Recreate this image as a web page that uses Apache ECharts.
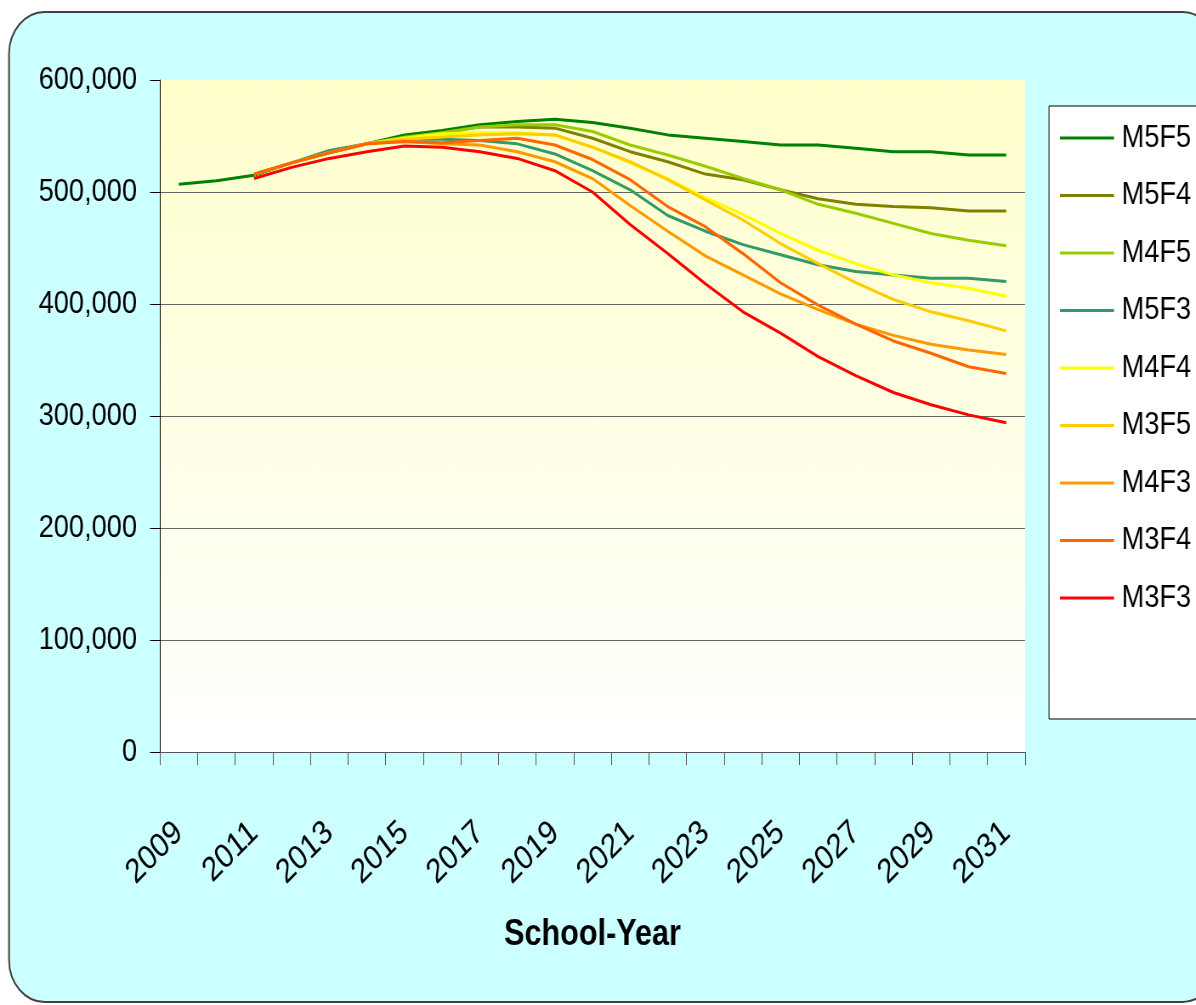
<!DOCTYPE html>
<html>
<head>
<meta charset="utf-8">
<title>School-Year projections</title>
<script src="https://cdn.jsdelivr.net/npm/echarts@6/dist/echarts.min.js"></script>
<style>
  html, body { margin: 0; padding: 0; background: #fff; overflow: hidden; }
  #wrap { width: 1196px; height: 1005px; overflow: hidden; }
  /* the reference is squeezed sideways, so draw wider and scale back */
  #chart { width: 1407px; height: 1005px; transform: scaleX(0.85); transform-origin: 0 0; }
</style>
</head>
<body>
<div id="wrap"><div id="chart"></div></div>
<script>
// school years on the x axis
const years = ["2009", "2010", "2011", "2012", "2013", "2014", "2015", "2016", "2017", "2018", "2019", "2020",
  "2021", "2022", "2023", "2024", "2025", "2026", "2027", "2028", "2029", "2030", "2031"]

// values (projections start in 2011)
const m5f5 = [507000, 510000, 515000, 526000, 536000, 543000, 551000, 555000, 560000, 563000, 565000, 562000,
  557000, 551000, 548000, 545000, 542000, 542000, 539000, 536000, 536000, 533000, 533000]
const m5f4 = [null, null, 516000, 526000, 535000, 543000, 549000, 553000, 558000, 558000, 557000, 548000,
  536000, 527000, 516000, 511000, 502000, 494000, 489000, 487000, 486000, 483000, 483000]
const m4f5 = [null, null, 516000, 526000, 535000, 543000, 549000, 553000, 558000, 560000, 560000, 554000,
  542000, 533000, 523000, 512000, 502000, 489000, 481000, 472000, 463000, 457000, 452000]
const m5f3 = [null, null, 516000, 526000, 537000, 543000, 547000, 547000, 546000, 543000, 534000, 519000,
  502000, 479000, 465000, 453000, 444000, 435000, 429000, 426000, 423000, 423000, 420000]
const m4f4 = [null, null, 516000, 526000, 535000, 543000, 548000, 552000, 553000, 553000, 551000, 540000,
  526000, 512000, 495000, 480000, 463000, 448000, 436000, 426000, 419000, 414000, 407000]
const m3f5 = [null, null, 516000, 526000, 535000, 543000, 547000, 549000, 551000, 552000, 551000, 540000,
  527000, 511000, 493000, 475000, 454000, 436000, 419000, 404000, 393000, 385000, 376000]
const m4f3 = [null, null, 516000, 526000, 535000, 543000, 545000, 543000, 542000, 536000, 527000, 512000,
  488000, 465000, 443000, 426000, 409000, 395000, 382000, 372000, 364000, 359000, 355000]
const m3f4 = [null, null, 516000, 526000, 535000, 543000, 545000, 544000, 546000, 548000, 542000, 529000,
  511000, 487000, 469000, 445000, 419000, 399000, 382000, 367000, 356000, 344000, 338000]
const m3f3 = [null, null, 512000, 522000, 530000, 536000, 541000, 540000, 536000, 530000, 519000, 500000,
  471000, 445000, 418000, 393000, 374000, 353000, 336000, 321000, 310000, 301000, 294000]

const seriesNames = ["M5F5", "M5F4", "M4F5", "M5F3", "M4F4", "M3F5", "M4F3", "M3F4", "M3F3"]
const seriesData = [m5f5, m5f4, m4f5, m5f3, m4f4, m3f5, m4f3, m3f4, m3f3]
const seriesColors = ["#008000", "#808000", "#99cc00", "#339966", "#ffff00", "#ffcc00", "#ff9900", "#ff6600", "#ff0000"]

const font = "'Liberation Sans', Arial, sans-serif"
// horizontal squeeze applied by css, x positions below are given in screen pixels
const SX = 0.85
const px = (v) => v / SX

const chart = echarts.init(document.getElementById("chart"))

const option = {
  backgroundColor: "#fff",
  animation: false,
  graphic: [
    {
      type: "rect",
      z: -10,
      shape: { x: px(9), y: 12, width: px(1209), height: 990, r: 42 },
      style: { fill: "#ccffff", stroke: "#404040", lineWidth: 2 },
    },
  ],
  legend: {
    orient: "vertical",
    left: px(1049),
    top: 106,
    padding: [16, px(10), 105, px(11)],
    itemGap: 25.5,
    itemWidth: px(54),
    itemHeight: 3,
    icon: "rect",
    backgroundColor: "#fff",
    borderColor: "#000",
    borderWidth: 1,
    borderRadius: 0,
    textStyle: {
      color: "#000",
      fontSize: 32,
      fontFamily: font,
      lineHeight: 32,
      padding: [0, 0, 0, 4],
    },
    data: seriesNames,
  },
  grid: {
    left: px(160),
    top: 80,
    width: px(865),
    height: 672,
    show: true,
    borderWidth: 0,
    backgroundColor: new echarts.graphic.LinearGradient(0, 0, 0, 1, [
      { offset: 0, color: "#ffffcc" },
      { offset: 1, color: "#ffffff" },
    ]),
  },
  xAxis: {
    type: "category",
    data: years,
    boundaryGap: true,
    name: "School-Year",
    nameLocation: "middle",
    nameGap: 165,
    nameTextStyle: {
      color: "#000",
      fontSize: 36,
      fontWeight: "bold",
      fontFamily: font,
    },
    axisLine: {
      show: true,
      onZero: false,
      lineStyle: { color: "#555", width: 1 },
    },
    axisTick: {
      show: true,
      interval: 0,
      length: 13,
      lineStyle: { color: "#555" },
    },
    axisLabel: {
      interval: 1,
      rotate: 41,
      margin: 76,
      color: "#000",
      fontSize: 34,
      fontFamily: font,
    },
    splitLine: { show: false },
  },
  yAxis: {
    type: "value",
    min: 0,
    max: 600000,
    interval: 100000,
    axisLine: {
      show: true,
      lineStyle: { color: "#000", width: 1 },
    },
    axisTick: {
      show: true,
      length: px(10),
      lineStyle: { color: "#000" },
    },
    axisLabel: {
      margin: px(23),
      color: "#000",
      fontSize: 32,
      fontFamily: font,
      formatter: (v) => v.toLocaleString("en-US"),
    },
    splitLine: {
      show: true,
      lineStyle: {
        color: ["transparent", "#666", "#666", "#666", "#666", "#666", "transparent"],
        width: 1,
      },
    },
  },
  series: seriesNames.map((name, i) => ({
    name: name,
    type: "line",
    data: seriesData[i],
    symbol: "none",
    smooth: false,
    color: seriesColors[i],
    lineStyle: { color: seriesColors[i], width: 3 },
  })),
}

chart.setOption(option)
</script>
</body>
</html>
